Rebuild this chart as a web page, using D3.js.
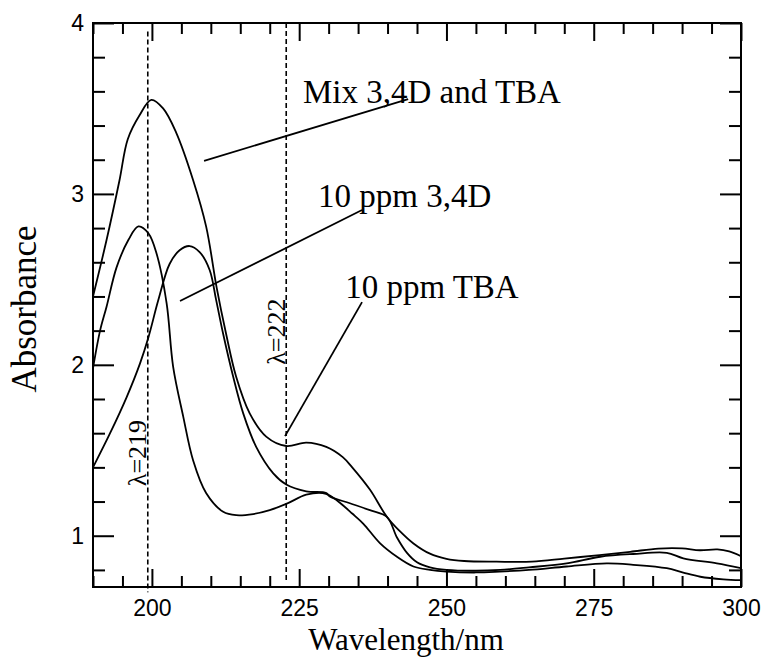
<!DOCTYPE html>
<html><head><meta charset="utf-8">
<script src="https://cdn.jsdelivr.net/npm/d3@7"></script>
<style>body{margin:0;background:#fff} svg{display:block}</style>
</head><body><svg id="c" width="766" height="657"></svg>
<script>
// ---- data ----
const mixWl  = [190,192.3,194.5,195.9,197.9,199.9,201.9,204.1,207,209.2,211,212.6,214.3,216.6,219.4,222.8,226.2,229.6,232.4,234,237,239.9,242,244.4,247.2,250,253,258.5,264.5,270,276,281.2,286,290,293,296,298,300];
const mixAbs = [2.40,2.73,3.08,3.32,3.46,3.55,3.50,3.36,3.08,2.81,2.45,2.18,1.93,1.716,1.58,1.525,1.545,1.52,1.46,1.40,1.27,1.11,1.03,0.955,0.895,0.865,0.852,0.848,0.848,0.866,0.887,0.906,0.925,0.926,0.915,0.92,0.908,0.88];

const d34Wl  = [190,191.2,192.3,194,196,197.7,199.4,200.8,202.5,203.6,205.3,207,209.2,212.1,214.3,217.2,220,222.8,226.2,229,230.2,232,234,235.9,238.7,241.6,244.4,247.2,250,255,259,264,270.4,277.2,281.7,287.4,290.2,293.1,297,300];
const d34Abs = [1.98,2.20,2.34,2.57,2.73,2.81,2.77,2.65,2.36,1.99,1.70,1.44,1.25,1.14,1.12,1.127,1.15,1.186,1.24,1.25,1.235,1.19,1.13,1.07,0.957,0.877,0.82,0.80,0.79,0.785,0.79,0.80,0.82,0.838,0.83,0.81,0.784,0.76,0.745,0.74];

const tbaWl  = [190,192.9,195.7,198,199.4,201.1,203,204.7,206.4,208.1,209.8,210.9,212.1,213.8,215.5,217.7,220.6,222.8,226.2,229.6,230.2,233.6,237,239.9,241.6,243.3,245,247.2,250,255,259.1,264,270.4,276.1,281.7,287.4,290.2,295.9,300];
const tbaAbs = [1.40,1.60,1.81,2.01,2.16,2.38,2.59,2.67,2.695,2.66,2.555,2.38,2.18,1.93,1.716,1.52,1.365,1.30,1.26,1.25,1.23,1.19,1.15,1.11,0.99,0.90,0.845,0.815,0.80,0.795,0.80,0.815,0.838,0.877,0.893,0.90,0.868,0.838,0.81];

const xTickLabels = [200,225,250,275,300];
const yTickLabels = [1,2,3,4];
const markerWl = [199.3,222.8];
const markerText = ["λ=219","λ=222"];
const seriesNames = ["Mix 3,4D and TBA","10 ppm 3,4D","10 ppm TBA"];

// ---- layout ----
const svg = d3.select("#c");
const L=93, R=741, T=23, B=587;
const x = d3.scaleLinear().domain([190,300]).range([L,R]);
const y = d3.scaleLinear().domain([0.7,4]).range([B,T]);
const sans = "'Liberation Sans', Arial, sans-serif";
const serif = "'Liberation Serif', 'Times New Roman', serif";

const xMinor = d3.range(190,301,5).filter(v=>!xTickLabels.includes(v));
const yMinor = d3.range(8,40,2).map(v=>v/10).filter(v=>!yTickLabels.includes(v));

function styleAxis(g){
  g.select(".domain").remove();
  g.selectAll(".tick line").attr("stroke","#000").attr("stroke-width",2);
  g.selectAll(".tick text").attr("font-family",sans).attr("font-size",23).attr("fill","#000");
}
// bottom
svg.append("g").attr("transform",`translate(0,${B})`)
  .call(d3.axisBottom(x).tickValues(xTickLabels).tickSizeInner(-18).tickSizeOuter(0).tickPadding(13).tickFormat(d3.format("d"))).call(styleAxis);
svg.append("g").attr("transform",`translate(0,${B})`)
  .call(d3.axisBottom(x).tickValues(xMinor).tickSizeInner(-11).tickSizeOuter(0).tickFormat("")).call(styleAxis);
// top
svg.append("g").attr("transform",`translate(0,${T})`)
  .call(d3.axisTop(x).tickValues(xTickLabels).tickSizeInner(-18).tickSizeOuter(0).tickFormat("")).call(styleAxis);
svg.append("g").attr("transform",`translate(0,${T})`)
  .call(d3.axisTop(x).tickValues(xMinor).tickSizeInner(-11).tickSizeOuter(0).tickFormat("")).call(styleAxis);
// left
svg.append("g").attr("transform",`translate(${L},0)`)
  .call(d3.axisLeft(y).tickValues(yTickLabels).tickSizeInner(-21).tickSizeOuter(0).tickPadding(9).tickFormat(d3.format("d"))).call(styleAxis);
svg.append("g").attr("transform",`translate(${L},0)`)
  .call(d3.axisLeft(y).tickValues(yMinor).tickSizeInner(-12).tickSizeOuter(0).tickFormat("")).call(styleAxis);
// right
svg.append("g").attr("transform",`translate(${R},0)`)
  .call(d3.axisRight(y).tickValues(yTickLabels).tickSizeInner(-21).tickSizeOuter(0).tickFormat("")).call(styleAxis);
svg.append("g").attr("transform",`translate(${R},0)`)
  .call(d3.axisRight(y).tickValues(yMinor).tickSizeInner(-12).tickSizeOuter(0).tickFormat("")).call(styleAxis);

// frame
svg.append("rect").attr("x",L).attr("y",T).attr("width",R-L).attr("height",B-T)
  .attr("fill","none").attr("stroke","#000").attr("stroke-width",2);

// dashed markers
const markerY = [[3.95,0.67],[4.0,0.73]];
svg.selectAll(".mk").data(markerWl).join("line")
  .attr("x1",d=>x(d)).attr("x2",d=>x(d))
  .attr("y1",(d,i)=>y(markerY[i][0])).attr("y2",(d,i)=>y(markerY[i][1]))
  .attr("stroke","#000").attr("stroke-width",1.6).attr("stroke-dasharray","5,3");

// curves
svg.append("clipPath").attr("id","clip").append("rect").attr("x",L).attr("y",T).attr("width",R-L).attr("height",B-T);
const line = d3.line().x(d=>x(d[0])).y(d=>y(d[1])).curve(d3.curveCatmullRom.alpha(0.5));
const series = [d3.zip(mixWl,mixAbs), d3.zip(d34Wl,d34Abs), d3.zip(tbaWl,tbaAbs)];
svg.append("g").attr("clip-path","url(#clip)").selectAll("path").data(series).join("path")
  .attr("d",line).attr("fill","none").attr("stroke","#000").attr("stroke-width",1.8);

// annotation labels & pointers (data units)
const labelPos = [[225.65,3.532],[228.2,2.923],[232.8,2.391]];
const pointers = [[[208.85,3.193],[243.5,3.555]],[[204.77,2.373],[235.67,2.906]],[[222.6,1.583],[235.67,2.367]]];
svg.selectAll(".lbl").data(seriesNames).join("text")
  .attr("x",(d,i)=>x(labelPos[i][0])).attr("y",(d,i)=>y(labelPos[i][1]))
  .attr("font-family",serif).attr("font-size",33).attr("fill","#000").text(d=>d);
svg.selectAll(".ptr").data(pointers).join("line")
  .attr("x1",d=>x(d[0][0])).attr("y1",d=>y(d[0][1]))
  .attr("x2",d=>x(d[1][0])).attr("y2",d=>y(d[1][1]))
  .attr("stroke","#000").attr("stroke-width",1.8);

// lambda labels
const lamPos = [[199.05,1.484],[222.65,2.194]];
svg.selectAll(".lam").data(markerText).join("text")
  .attr("transform",(d,i)=>`translate(${x(lamPos[i][0])},${y(lamPos[i][1])}) rotate(-90)`)
  .attr("text-anchor","middle").attr("font-family",serif).attr("font-size",26).attr("fill","#000").text(d=>d);

// axis titles
svg.append("text").attr("x",406).attr("y",650).attr("text-anchor","middle")
  .attr("font-family",serif).attr("font-size",31).attr("fill","#000").text("Wavelength/nm");
svg.append("text").attr("transform","translate(36,309) rotate(-90)").attr("text-anchor","middle")
  .attr("font-family",serif).attr("font-size",35).attr("fill","#000").text("Absorbance");
</script></body></html>
